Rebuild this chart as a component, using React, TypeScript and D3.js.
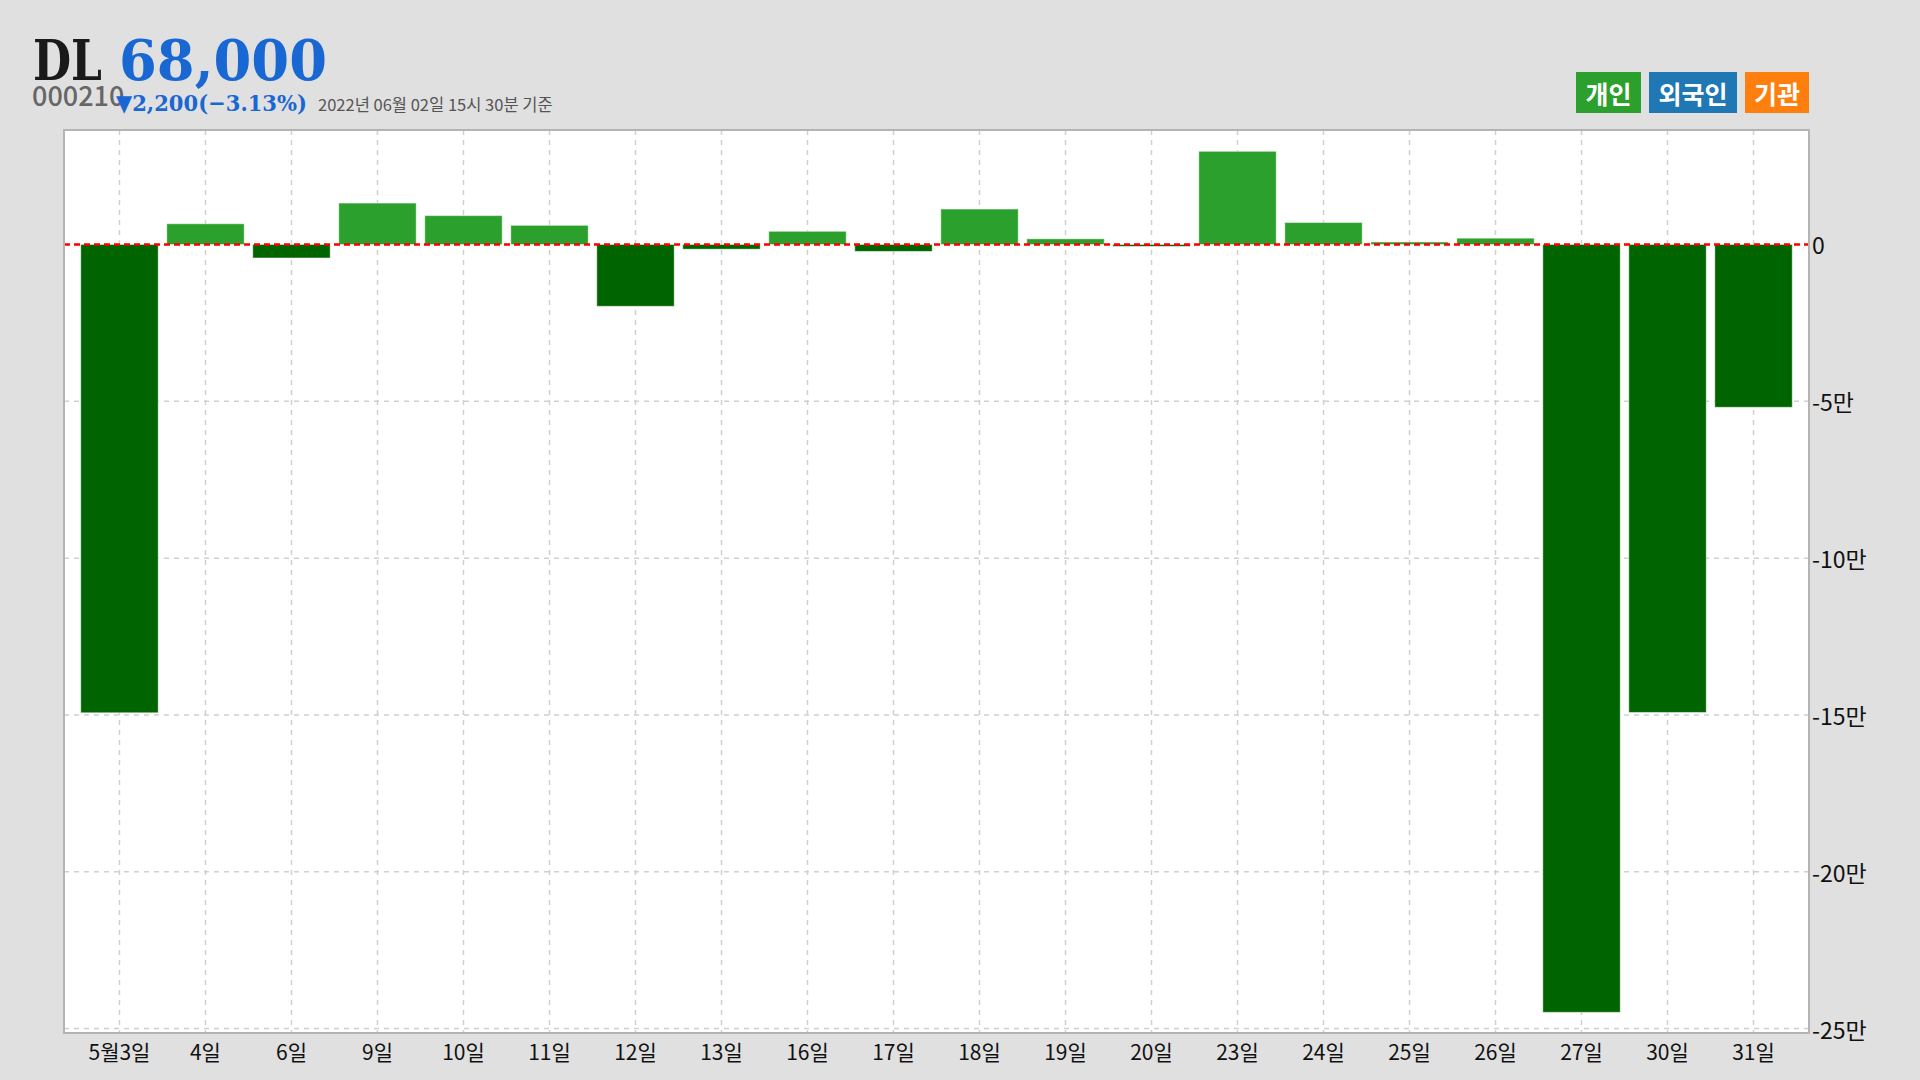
import * as d3 from 'd3';

const dates = ['5월3일', '4일', '6일', '9일', '10일', '11일', '12일', '13일', '16일', '17일', '18일', '19일', '20일', '23일', '24일', '25일', '26일', '27일', '30일', '31일'];
const personal = [-149300, 6600, -4300, 13200, 9200, 6100, -19700, -1500, 4200, -2200, 11300, 1800, -600, 29700, 7000, 800, 2000, -244800, -149200, -51900];
const yTicks = [0, -50000, -100000, -150000, -200000, -250000];
const yTickLabels = ['0', '-5만', '-10만', '-15만', '-20만', '-25만'];
const legendItems = ['개인', '외국인', '기관'];
const legendColors = ['#2ca02c', '#1f77b4', '#ff7f0e'];

const W = 1920;
const H = 1080;
const plot = { left: 64, right: 1809, top: 130, bottom: 1033 };

const KR = '"Noto Sans CJK KR", "Noto Sans", sans-serif';
const SERIF = '"DejaVu Serif", serif';

export default function App() {
    const x = d3.scalePoint<string>().domain(dates).range([plot.left, plot.right]).padding(0.645);
    const y = d3.scaleLinear().domain([-251400, 36500]).range([plot.bottom, plot.top]);
    const barW = x.step() * 0.9;
    const y0 = y(0);

    // legend boxes laid out from their label widths
    const legendW = [65, 88, 64];
    let lx = 1576;
    const legend = legendItems.map((t, i) => {
        const item = { t, x: lx, w: legendW[i], c: legendColors[i] };
        lx += legendW[i] + 8;
        return item;
    });

    return (
        <svg width={W} height={H} style={{ position: 'absolute', left: 0, top: 0 }}>
            <rect width={W} height={H} fill="#e0e0e0" />

            {/* header */}
            <text x={33} y={80} fontFamily={SERIF} fontWeight="bold" fontSize={56} fill="#1a1a1a" textLength={69} lengthAdjust="spacingAndGlyphs">DL</text>
            <text x={119} y={80} fontFamily={SERIF} fontWeight="bold" fontSize={56} fill="#1967d2" textLength={208} lengthAdjust="spacingAndGlyphs">68,000</text>
            <text x={32} y={106} fontFamily={KR} fontWeight={500} fontSize={27} fill="#666">000210</text>
            <text x={116} y={111} fontFamily={SERIF} fontWeight="bold" fontSize={23} fill="#1967d2" textLength={191} lengthAdjust="spacingAndGlyphs">▼2,200(−3.13%)</text>
            <text x={318} y={111} fontFamily={KR} fontSize={16.5} fill="#555">2022년 06월 02일 15시 30분 기준</text>

            {legend.map((l) => (
                <g key={l.t}>
                    <rect x={l.x} y={72} width={l.w} height={41} fill={l.c} />
                    <text x={l.x + l.w / 2} y={93} textAnchor="middle" dominantBaseline="central" fontFamily={KR} fontWeight="bold" fontSize={25} fill="#fff">{l.t}</text>
                </g>
            ))}

            {/* plot area */}
            <rect x={plot.left} y={plot.top} width={plot.right - plot.left} height={plot.bottom - plot.top} fill="#fff" />

            {dates.map((d) => (
                <line key={'gx' + d} x1={x(d)} x2={x(d)} y1={plot.top} y2={plot.bottom} stroke="#d0d0d0" strokeWidth={1.5} strokeDasharray="5,5" />
            ))}
            {yTicks.map((t) => (
                <line key={'gy' + t} x1={plot.left} x2={plot.right} y1={y(t)} y2={y(t)} stroke="#d0d0d0" strokeWidth={1.5} strokeDasharray="5,5" />
            ))}

            {personal.map((v, i) => {
                const cx = x(dates[i]) as number;
                const top = Math.min(y(v), y0);
                const h = Math.max(Math.abs(y(v) - y0), 1.5);
                return (
                    <rect
                        key={'b' + i}
                        x={cx - barW / 2}
                        y={top}
                        width={barW}
                        height={h}
                        fill={v >= 0 ? '#2ca02c' : '#006400'}
                        stroke="rgba(255,255,255,0.45)"
                        strokeWidth={1}
                    />
                );
            })}

            <line x1={plot.left} x2={plot.right} y1={y0} y2={y0} stroke="#ff0000" strokeWidth={2.6} strokeDasharray="6,4" />

            <rect x={plot.left} y={plot.top} width={plot.right - plot.left} height={plot.bottom - plot.top} fill="none" stroke="#b4b4b4" strokeWidth={2} />

            {/* y axis labels */}
            {yTicks.map((t, i) => (
                <text key={'yl' + t} x={plot.right + 3} y={y(t)} dominantBaseline="central" fontFamily={KR} fontSize={23} fill="#111">{yTickLabels[i]}</text>
            ))}

            {/* x axis labels */}
            {dates.map((d) => (
                <text key={'xl' + d} x={x(d)} y={1051} textAnchor="middle" dominantBaseline="central" fontFamily={KR} fontSize={21} fill="#111">
                    {d}
                </text>
            ))}
        </svg>
    );
}
